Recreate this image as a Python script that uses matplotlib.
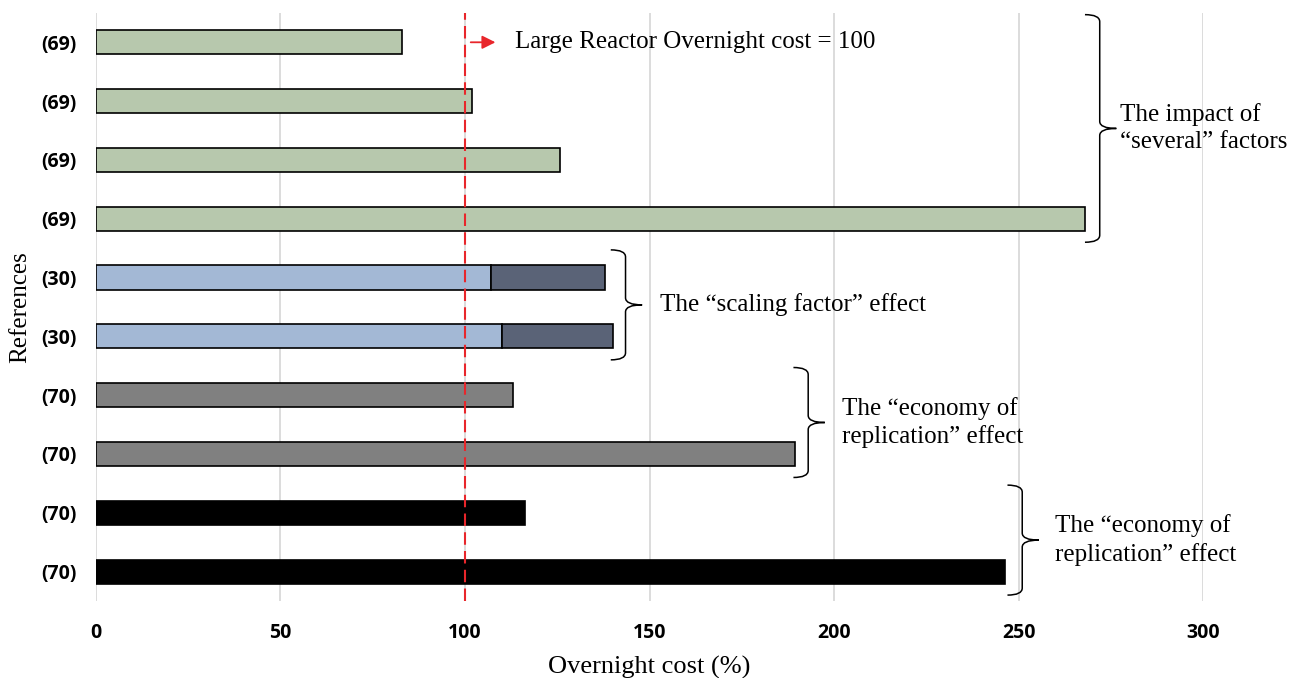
import matplotlib
matplotlib.use('Agg')
import matplotlib.pyplot as plt
from matplotlib.path import Path
from matplotlib.patches import PathPatch

# 数据
refs = ['(69)', '(69)', '(69)', '(69)', '(30)', '(30)', '(70)', '(70)', '(70)', '(70)']
base = [83, 102, 125.7, 268, 107, 110, 113, 189.3, 116.3, 246.3]
extra = [0, 0, 0, 0, 31, 30, 0, 0, 0, 0]
colors = ['#B7C8AD'] * 4 + ['#A3B8D5'] * 2 + ['#808080'] * 2 + ['#000000'] * 2
extra_color = '#5A6377'
xticks = [0, 50, 100, 150, 200, 250, 300]
ref_cost = 100

groups = [
    # (first, last, x of brace, x of text, text)
    (0, 3, 268, 277.5, 'The impact of\n\u201cseveral\u201d factors'),
    (4, 5, 139.5, 152.8, 'The \u201cscaling factor\u201d effect'),
    (6, 7, 189.0, 202.2, 'The \u201ceconomy of\nreplication\u201d effect'),
    (8, 9, 247.0, 259.9, 'The \u201ceconomy of\nreplication\u201d effect'),
]

serif = 'Liberation Serif'
sans = 'Open Sans'

fig = plt.figure(figsize=(12.9, 6.78), dpi=100)
ax = fig.add_axes([0.0744, 0.1136, 0.8582, 0.8674])

pos = list(range(len(refs)))
ax.barh(pos, base, height=0.41, color=colors, edgecolor='black', linewidth=1.2, zorder=3)
ax.barh(pos, extra, left=base, height=0.41, color=extra_color,
        edgecolor=['black' if e > 0 else 'none' for e in extra], linewidth=1.2, zorder=3)

ax.set_xlim(0, 300)
ax.set_ylim(9.5, -0.5)
ax.set_xticks(xticks)
ax.set_yticks(pos)
ax.set_yticklabels(refs)
for lab in ax.get_xticklabels() + ax.get_yticklabels():
    lab.set_family(sans)
    lab.set_fontweight('bold')
    lab.set_fontsize(14)
ax.tick_params(length=0)
ax.tick_params(axis='x', pad=16)
ax.tick_params(axis='y', pad=14)
for s in ax.spines.values():
    s.set_visible(False)
ax.grid(axis='x', color='#D9D9D9', linewidth=1.3, zorder=0)
ax.set_axisbelow(True)

ax.set_xlabel('Overnight cost (%)', family=serif, fontsize=19, labelpad=9)
ax.set_ylabel('References', family=serif, fontsize=18, labelpad=7)

# 参考线
ax.axvline(ref_cost, color='#E8262B', linestyle=(0, (6, 3)), linewidth=1.5, zorder=4)
ax.annotate('', xy=(109.0, 0), xytext=(100.8, 0),
            arrowprops=dict(arrowstyle='-|>', color='#E8262B', lw=1.3, mutation_scale=20))
ax.text(113.5, 0, 'Large Reactor Overnight cost = 100', family=serif, fontsize=18,
        va='center', ha='left')


def brace(x, y0, y1, w=4.0, tip=4.5, r=0.12):
    ym = (y0 + y1) / 2
    xv = x + w
    verts = [(x, y0), (xv, y0), (xv, y0 + r),
             (xv, ym - r),
             (xv, ym), (xv + tip, ym),
             (xv, ym), (xv, ym + r),
             (xv, y1 - r),
             (xv, y1), (x, y1)]
    codes = [Path.MOVETO, Path.CURVE3, Path.CURVE3,
             Path.LINETO,
             Path.CURVE3, Path.CURVE3,
             Path.CURVE3, Path.CURVE3,
             Path.LINETO,
             Path.CURVE3, Path.CURVE3]
    ax.add_patch(PathPatch(Path(verts, codes), fill=False, lw=1.1, color='black',
                           clip_on=False, zorder=5))


for first, last, bx, tx, label in groups:
    y0 = first - 0.47
    y1 = last + 0.40
    brace(bx, y0, y1)
    ax.text(tx, (y0 + y1) / 2, label, family=serif, fontsize=18, va='center',
            ha='left', linespacing=1.3, zorder=6, clip_on=False)

fig.savefig('out.png', dpi=100)
